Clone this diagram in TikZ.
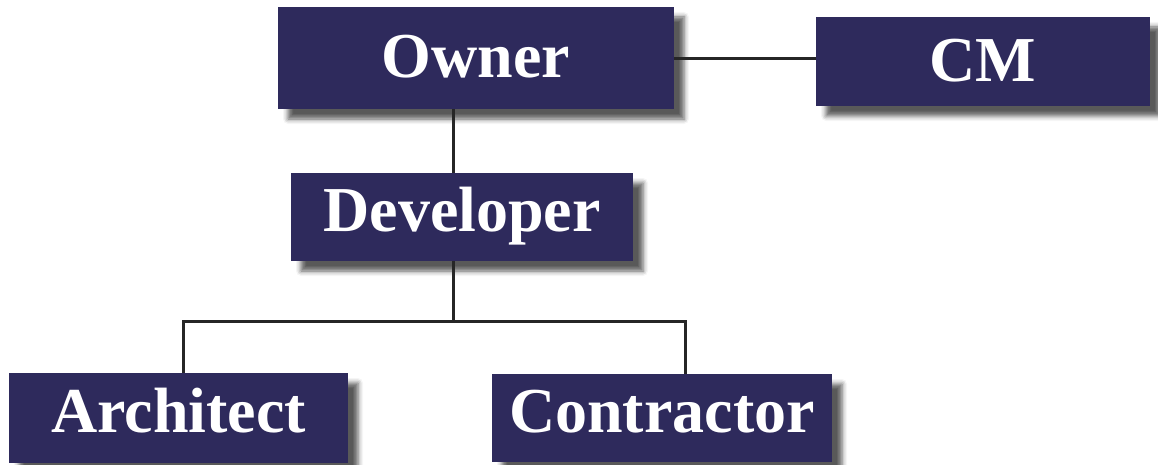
\documentclass[tikz,border=0pt]{standalone}
\usepackage{fontspec}
\setmainfont{Liberation Serif}
\usepackage{tikz}
\usetikzlibrary{positioning,shadows.blur}
\definecolor{boxnavy}{HTML}{2E2A5C}

\begin{document}
\begin{tikzpicture}[x=1pt,y=-1pt,
    party/.style={rectangle, fill=boxnavy, text=white, inner sep=0pt,
      font=\bfseries\fontsize{64}{70}\selectfont, text height=45pt, text depth=16pt,
      blur shadow={shadow xshift=10pt, shadow yshift=-10pt, shadow blur radius=5pt, shadow opacity=65}},
    link/.style={draw=black!85, line width=3pt}]
      \useasboundingbox (0,0) rectangle (1158,465);

      \node (owner) [party, minimum width=396pt, minimum height=102pt, text depth=5pt] at (476,58) {Owner};
      \node (cm) [party, minimum width=334pt, minimum height=89pt, text depth=5pt] at (983,61.5) {CM};
      \node (developer) [party, minimum width=342pt, minimum height=88pt] at (462,217) {Developer};
      \node (architect) [party, minimum width=339pt, minimum height=90pt] at (178.5,418) {Architect};
      \node (contractor) [party, minimum width=340pt, minimum height=88pt] at (662,418) {Contractor};

      %% branch points
      \coordinate (split) at (453,321);
      \coordinate (archtop) at (183,321);
      \coordinate (contop) at (685,321);

      \draw[link] (owner.east |- 0,59) -- (cm.west |- 0,59);
      \draw[link] (owner.south -| split) -- (developer.north -| split);
      \draw[link] (developer.south -| split) -- (split);
      \draw[link] (architect.north -| archtop) -- (archtop) -- (contop) -- (contractor.north -| contop);

    \end{tikzpicture}
\end{document}
